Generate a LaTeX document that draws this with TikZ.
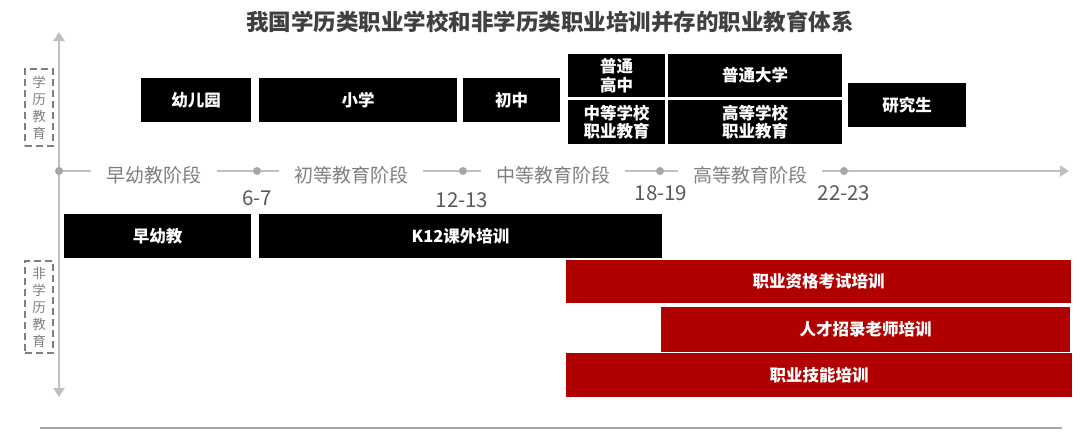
\documentclass[tikz,border=0pt]{standalone}
\usepackage{fontspec}
\setmainfont{Noto Sans CJK SC}
\usetikzlibrary{arrows.meta}
\definecolor{axisgray}{HTML}{BFBFBF}
\definecolor{dotgray}{HTML}{A6A6A6}
\definecolor{labelgray}{HTML}{7F7F7F}
\definecolor{agegray}{HTML}{595959}
\definecolor{titlegray}{HTML}{404040}
\definecolor{trainred}{HTML}{B00000}
\tikzset{
	axis/.style={line width=2.6pt, color=axisgray},
	agedot/.style={fill=dotgray, draw=none, circle, inner sep=0pt, minimum size=8pt},
	stage/.style={text=labelgray, font=\fontsize{19}{22}\selectfont, inner xsep=15pt},
	age/.style={text=agegray, font=\fontsize{20.5}{24}\selectfont},
	schoolbox/.style={fill=black, text=white, inner sep=0pt, align=center,
		font=\bfseries\fontsize{16.5}{18.5}\selectfont},
	trainbox/.style={schoolbox, fill=trainred},
	sidetag/.style={draw=labelgray, line width=1.4pt, dash pattern=on 7pt off 4pt,
		text=labelgray, align=center, inner sep=0pt, minimum width=28pt,
		font=\fontsize{13.5}{17}\selectfont}
}
\begin{document}
\begin{tikzpicture}[x=1pt, y=-1pt]
			%%%%% FRAME %%%%%
			\useasboundingbox (0, 0) rectangle (1080, 432);
			
			\node[text=titlegray, font=\bfseries\fontsize{22.5}{26}\selectfont] (title) at (550, 22) {我国学历类职业学校和非学历类职业培训并存的职业教育体系};
			
			%%%%% AXES %%%%%
			\coordinate (origin) at (59, 171);
			\coordinate (top) at (59, 32);
			\coordinate (bottom) at (59, 397);
			\coordinate (xend) at (1069, 171);
			
			\draw[axis, -{Triangle[width=11pt, length=9pt]}] (origin) -- (top);
			\draw[axis, -{Triangle[width=11pt, length=9pt]}] (origin) -- (bottom);
			
			\node[stage] (s0) at (154, 175) {早幼教阶段};
			\node[stage] (s1) at (351, 175) {初等教育阶段};
			\node[stage] (s2) at (553, 175) {中等教育阶段};
			\node[stage] (s3) at (750, 175) {高等教育阶段};
			
			\draw[axis] (origin) -- (s0.west |- origin);
			\draw[axis] (s0.east |- origin) -- (s1.west |- origin);
			\draw[axis] (s1.east |- origin) -- (s2.west |- origin);
			\draw[axis] (s2.east |- origin) -- (s3.west |- origin);
			\draw[axis, -{Triangle[width=11pt, length=9pt]}] (s3.east |- origin) -- (xend);
			
			\node[agedot] (d0) at (origin) {};
			\node[agedot] (d1) at (257, 171) {};
			\node[agedot] (d2) at (463, 171) {};
			\node[agedot] (d3) at (660, 171) {};
			\node[agedot] (d4) at (844, 171) {};
			
			\node[age] (a1) at (257, 198) {6-7};
			\node[age] (a2) at (462, 200) {12-13};
			\node[age] (a3) at (661, 193) {18-19};
			\node[age] (a4) at (844, 193) {22-23};
			
			\node[sidetag, minimum height=77pt] (degree) at (39, 107.5) {学\\历\\教\\育};
			\node[sidetag, minimum height=92pt] (nondegree) at (39, 307) {非\\学\\历\\教\\育};
			
			%%%%% SCHOOLS %%%%%
			\node[schoolbox, minimum width=110pt, minimum height=44pt] (kinder) at (196, 100) {幼儿园};
			\node[schoolbox, minimum width=198pt, minimum height=44pt] (primary) at (358, 100) {小学};
			\node[schoolbox, minimum width=97pt, minimum height=44pt] (junior) at (511.5, 100) {初中};
			\node[schoolbox, minimum width=97pt, minimum height=43pt] (senior) at (616.5, 75.5) {普通\\高中};
			\node[schoolbox, minimum width=97pt, minimum height=44pt] (midvoc) at (616.5, 122) {中等学校\\职业教育};
			\node[schoolbox, minimum width=174pt, minimum height=43pt] (univ) at (755, 75.5) {普通大学};
			\node[schoolbox, minimum width=174pt, minimum height=44pt] (highvoc) at (755, 122) {高等学校\\职业教育};
			\node[schoolbox, minimum width=118pt, minimum height=44pt] (grad) at (907, 105) {研究生};
			
			%%%%% TRAINING %%%%%
			\node[schoolbox, minimum width=187pt, minimum height=44pt] (early) at (157.5, 236) {早幼教};
			\node[schoolbox, minimum width=403pt, minimum height=44pt] (ktwelve) at (460.5, 236) {K12课外培训};
			\node[trainbox, minimum width=505pt, minimum height=43pt] (qualify) at (818.5, 281.5) {职业资格考试培训};
			\node[trainbox, minimum width=409pt, minimum height=45pt] (recruit) at (865.5, 329.5) {人才招录老师培训};
			\node[trainbox, minimum width=506pt, minimum height=44pt] (skill) at (819, 375) {职业技能培训};
			
			\coordinate (rulestart) at (40, 428);
			\coordinate (ruleend) at (1062, 428);
			\draw[line width=2pt, color=dotgray] (rulestart) -- (ruleend);
			
			%%%%% END %%%%%
\end{tikzpicture}
\end{document}
